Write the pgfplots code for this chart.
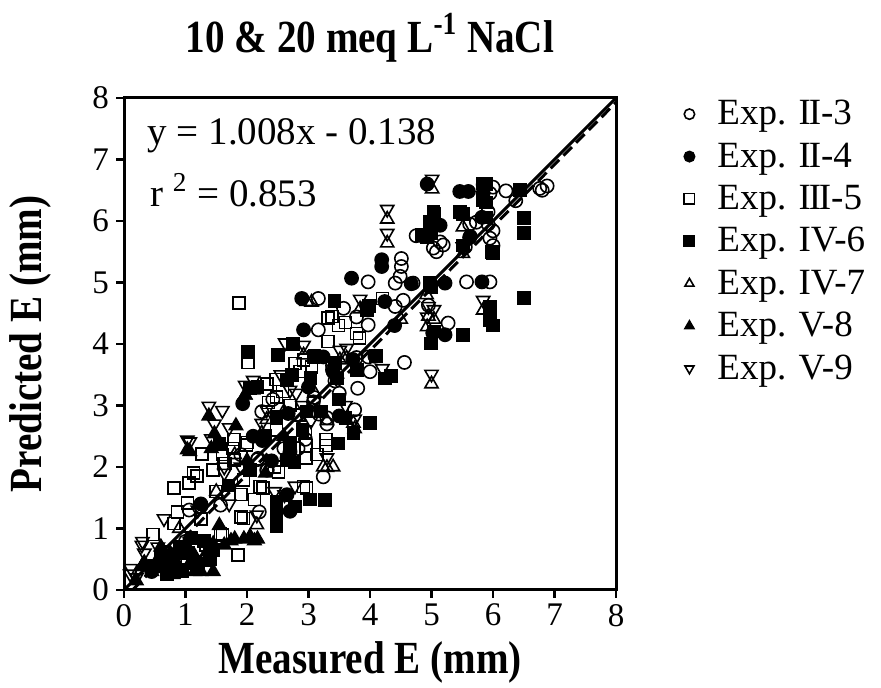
\documentclass[border=0pt]{standalone}
\usepackage{fontspec}
\setmainfont{Liberation Serif}
\newfontfamily\condbf{Liberation Serif}[FakeStretch=0.85]
\usepackage{pgfplots}
\pgfplotsset{compat=1.18}
\newcommand{\II}{I\kern-0.06em I}
\newcommand{\III}{I\kern-0.06em I\kern-0.06em I}
\begin{document}
\begin{tikzpicture}
\path[use as bounding box] (-62pt,-49pt) rectangle (378.5pt,295pt);
\begin{axis}[
  at={(0,0)}, anchor=south west,
  width=246pt, height=246pt, scale only axis,
  xmin=0, xmax=8, ymin=0, ymax=8,
  xtick={0,1,...,8}, ytick={0,1,...,8},
  tick align=outside, xtick pos=bottom, ytick pos=left,
  major tick length=4pt,
  axis line style={line width=1.5pt},
  every tick/.style={black, line width=1.4pt},
  /pgf/number format/assume math mode=true,
  ticklabel style={font=\fontsize{16.5}{18}\selectfont},
  xticklabel style={yshift=0.5pt},
  xlabel={\condbf\bfseries Measured E (mm)},
  ylabel={\condbf\bfseries Predicted E (mm)},
  title={\condbf\bfseries 10 \& 20 meq L\textsuperscript{-1} NaCl},
  xlabel style={at={(axis description cs:0.5,-0.148)}, anchor=center, font=\fontsize{23}{26}\selectfont},
  ylabel style={at={(axis description cs:-0.191,0.5)}, anchor=center, font=\fontsize{23}{26}\selectfont},
  title style={at={(axis description cs:0.5,1.098)}, anchor=center, font=\fontsize{23}{26}\selectfont},
  legend style={at={(axis description cs:1.12,1.0)}, anchor=north west, draw=none, fill=none,
    font=\fontsize{18.5}{21}\selectfont, row sep=5.5pt, inner sep=0pt,
    nodes={inner sep=1pt}},
  legend cell align=left,
  reverse legend,
  legend image code/.code={\path[draw=none,fill=none] (0pt,0pt) -- (20pt,0pt); \draw[#1, mark size=2.6pt] plot coordinates {(7pt,0pt)};},
  every axis plot/.append style={only marks, line width=0.8pt},
]
% V-9 open triangle down
\addplot[mark=triangle, mark size=3.8pt, mark options={rotate=180, fill=white, draw=black}] coordinates {
(5.01,6.68)(4.28,6.19)(4.28,5.80)(5.04,4.56)(4.93,4.44)(5.84,4.71)(5.0,3.51)(3.84,4.73)
(2.62,4.02)(2.92,3.98)(3.62,3.93)(2.7,3.25)(2.8,3.2)(2.1,3.41)(1.97,3.33)(1.6,2.92)(1.38,2.99)
(1.71,2.64)(1.47,2.70)(1.42,2.46)(1.07,2.41)(1.03,2.44)(3.3,2.15)(3.75,2.78)(3.04,2.75)(2.32,2.93)
(2.24,2.71)(2.61,1.55)(2.78,1.69)(2.45,1.6)(1.63,1.9)(1.71,1.4)(0.65,1.16)(0.3,0.79)(0.29,0.73)
(0.11,0.35)(0.1,0.26)(0.33,0.60)(2.16,1.22)(0.2,0.2)(1.63,2.0)(5.51,5.58)(4.95,4.61)(3.51,3.90)
(2.55,3.5)(2.9,3.0)(1.9,2.0)(1.2,1.3)(0.55,0.7)(0.42,0.38)(3.6,3.0)(4.2,3.6)};
\addlegendentry{Exp. V-9}
% V-8 filled triangle up
\addplot[mark=triangle*, mark size=3.8pt, mark options={fill=black, draw=black}] coordinates {
(1.38,2.83)(1.47,2.54)(1.82,2.67)(1.42,2.30)(1.07,2.25)(1.03,2.28)(2.1,3.25)(1.97,3.17)
(1.8,0.83)(1.95,0.83)(2.05,0.87)(2.17,0.83)(1.63,0.73)(1.74,0.8)(2.12,0.8)
(0.45,0.3)(0.55,0.5)(0.65,0.35)(0.75,0.6)(0.85,0.45)(0.95,0.65)(1.05,0.4)(1.15,0.55)
(1.25,0.3)(1.35,0.45)(1.45,0.3)(0.6,0.7)(0.8,0.25)(1.0,0.75)(0.33,0.44)(0.29,0.38)
(1.45,0.75)(1.35,0.62)(0.7,0.45)(1.15,0.3)(2.0,2.1)(2.6,2.5)(1.55,1.05)(2.3,1.9)(0.2,0.15)};
\addlegendentry{Exp. V-8}
% IV-7 open triangle up
\addplot[mark=triangle, mark size=3.8pt, mark options={fill=white, draw=black}] coordinates {
(5.01,6.52)(4.28,6.03)(4.28,5.64)(5.51,5.9)(5.51,5.47)(3.05,4.68)(2.97,4.69)(3.84,4.57)
(4.92,4.8)(5.04,4.40)(4.93,4.28)(4.95,4.45)(5.84,4.55)(5.0,3.35)(2.92,3.82)(3.62,3.77)
(3.51,3.74)(3.75,2.62)(3.3,1.99)(3.4,2.0)(3.24,2.0)(3.73,2.71)(3.3,2.75)(2.32,2.77)
(2.24,2.55)(1.97,3.17)(0.29,0.38)(0.33,0.44)(2.16,1.06)(2.6,2.9)(3.1,3.2)(4.5,4.4)
(1.5,1.6)(0.9,1.0)(1.8,2.2)};
\addlegendentry{Exp. IV-7}
% IV-6 filled square
\addplot[mark=square*, mark size=3pt, mark options={fill=black, draw=black}] coordinates {
(5.89,6.6)(6.44,6.5)(5.89,6.3)(5.84,6.61)(5.84,6.34)(5.04,6.11)(5.04,5.95)(5.0,5.8)
(4.93,5.73)(5.51,6.11)(5.89,6.06)(6.0,5.47)(5.51,5.6)(6.5,6.05)(6.5,5.8)(4.84,5.77)
(5.03,6.15)(4.98,5.99)(5.46,6.15)(5.98,5.5)(4.98,4.99)(5.0,4.92)(6.5,4.75)(5.95,4.6)
(5.95,4.39)(6.0,4.3)(5.51,4.15)(4.99,4.01)(5.04,4.2)(3.42,4.7)(3.98,4.62)(3.95,4.55)
(4.1,3.8)(4.34,3.48)(4.24,3.44)(3.43,3.69)(3.46,3.44)(3.79,3.58)(2.02,3.87)(2.5,3.82)
(2.75,4.0)(3.1,3.8)(3.03,3.45)(2.73,3.5)(2.65,3.41)(2.17,3.3)(2.05,3.28)(2.48,2.82)
(2.97,2.9)(4.0,2.72)(3.73,2.55)(3.48,2.38)(2.64,2.11)(2.77,2.07)(1.55,2.37)(3.02,1.47)
(3.27,1.46)(2.48,1.44)(2.48,1.35)(2.48,1.19)(2.48,1.03)(2.78,1.36)(0.6,0.55)(0.75,0.45)
(0.9,0.7)(1.05,0.6)(1.2,0.35)(1.3,0.8)(1.4,0.5)(0.7,0.25)(1.1,0.85)(0.5,0.4)(1.45,0.65)
(0.95,0.3)(2.9,2.6)(3.2,2.9)(3.6,2.8)(2.3,2.5)(2.05,1.95)(2.7,2.4)(3.5,3.1)(1.7,1.7)};
\addlegendentry{Exp. IV-6}
% III-5 open square
\addplot[mark=square, mark size=3pt, mark options={fill=white, draw=black}] coordinates {
(1.87,4.67)(4.2,4.74)(3.38,4.45)(3.49,4.3)(3.32,4.42)(3.78,4.17)(3.32,4.04)(3.83,4.1)
(2.02,3.7)(2.78,3.68)(2.86,3.55)(3.05,3.63)(2.92,3.74)(3.08,3.79)(2.47,3.42)(2.33,3.35)
(2.58,3.23)(2.48,3.14)(1.79,2.45)(2.0,2.4)(1.77,2.3)(1.6,2.2)(1.78,2.14)(1.27,2.21)
(1.99,2.36)(1.64,2.06)(1.13,1.9)(2.48,2.6)(2.95,2.57)(2.96,2.35)(2.96,2.15)(3.14,2.2)
(3.28,2.45)(3.28,2.35)(2.45,2.0)(2.51,1.92)(2.97,1.66)(2.12,1.47)(2.26,1.66)(1.9,1.55)
(1.94,1.79)(2.21,1.68)(2.92,1.68)(0.81,1.66)(1.06,1.74)(1.19,1.85)(1.63,2.06)(1.79,2.11)
(2.22,1.68)(1.9,1.19)(0.87,1.27)(0.81,1.08)(1.03,1.41)(1.33,0.73)(1.57,0.92)(1.85,0.57)
(0.47,0.9)(1.03,0.52)(0.89,0.3)(1.6,0.89)(1.94,1.16)(2.35,3.05)(2.7,3.0)(1.5,1.6)
(1.25,1.15)(0.65,0.62)(2.85,2.85)(1.45,1.95)(3.6,4.35)};
\addlegendentry{Exp. \III-5}
% II-4 filled circle
\addplot[mark=*, mark size=3.3pt, mark options={fill=black, draw=black}] coordinates {
(4.93,6.6)(5.46,6.48)(5.6,6.48)(5.84,6.59)(5.84,6.45)(5.14,5.93)(4.87,5.75)(5.63,5.75)
(5.82,6.06)(4.19,5.37)(4.19,5.26)(3.7,5.07)(5.22,4.99)(5.82,5.01)(4.67,4.98)(2.89,4.74)
(4.24,4.69)(3.95,4.61)(2.92,4.23)(5.22,4.15)(3.72,3.75)(3.24,3.79)(1.93,3.03)(2.67,2.87)
(3.5,2.83)(2.7,2.25)(2.65,2.14)(2.7,1.28)(2.65,1.55)(0.6,0.5)(0.9,0.6)(1.2,0.45)(0.8,0.35)
(1.4,0.7)(0.45,0.3)(2.25,2.43)(2.1,2.5)(3.0,3.3)(1.25,1.4)(2.4,2.1)(3.4,3.55)(4.4,4.3)};
\addlegendentry{Exp. \II-4}
% II-3 open circle
\addplot[mark=o, mark size=3.3pt, mark options={fill=white, draw=black}] coordinates {
(6.0,6.55)(6.21,6.49)(6.88,6.57)(6.8,6.5)(6.37,6.33)(5.95,6.45)(6.76,6.53)(4.75,5.76)
(5.19,5.61)(5.08,5.5)(5.62,5.95)(5.73,5.98)(5.92,5.95)(6.0,5.84)(5.95,5.72)(6.0,5.6)
(5.62,5.73)(5.14,5.66)(5.03,5.56)(5.92,6.15)(5.55,5.58)(4.51,5.39)(4.51,5.26)(3.97,5.01)
(4.41,4.99)(4.49,5.1)(4.7,4.99)(5.57,5.01)(5.95,5.01)(3.16,4.74)(3.57,4.58)(4.41,4.61)
(4.54,4.71)(4.95,4.63)(3.78,4.44)(3.97,4.31)(3.16,4.23)(5.27,4.34)(5.02,4.18)(3.39,3.65)
(3.39,3.58)(3.78,3.78)(4.08,3.8)(4.0,3.55)(4.56,3.7)(3.97,3.79)(3.09,3.13)(3.43,3.4)
(3.5,3.2)(3.8,3.28)(2.42,3.1)(2.24,2.9)(3.17,2.86)(3.3,2.8)(3.3,2.7)(3.75,2.93)(3.08,3.06)
(2.18,2.14)(2.32,1.95)(2.83,2.3)(3.24,1.84)(2.17,2.12)(2.33,1.95)(2.2,1.27)(1.57,1.38)
(1.25,1.36)(1.06,1.3)(1.0,0.79)(2.95,2.45)(2.6,2.3)(1.9,2.2)};
\addlegendentry{Exp. \II-3}
% 1:1 line and regression line
\addplot[forget plot, sharp plot, no marks, line width=1.5pt, black] coordinates {(0,0) (8,8)};
\addplot[forget plot, sharp plot, no marks, line width=1.5pt, black, dash pattern=on 6pt off 3pt] coordinates {(0.137,0) (8,7.926)};
\node[anchor=base west, font=\fontsize{19.5}{22}\selectfont, inner sep=0pt] at (axis cs:0.38,7.24) {y = 1.008x - 0.138};
\node[anchor=base west, font=\fontsize{19.5}{22}\selectfont, inner sep=0pt] at (axis cs:0.42,6.24) {r \textsuperscript{2} = 0.853};
\end{axis}
\end{tikzpicture}
\end{document}
